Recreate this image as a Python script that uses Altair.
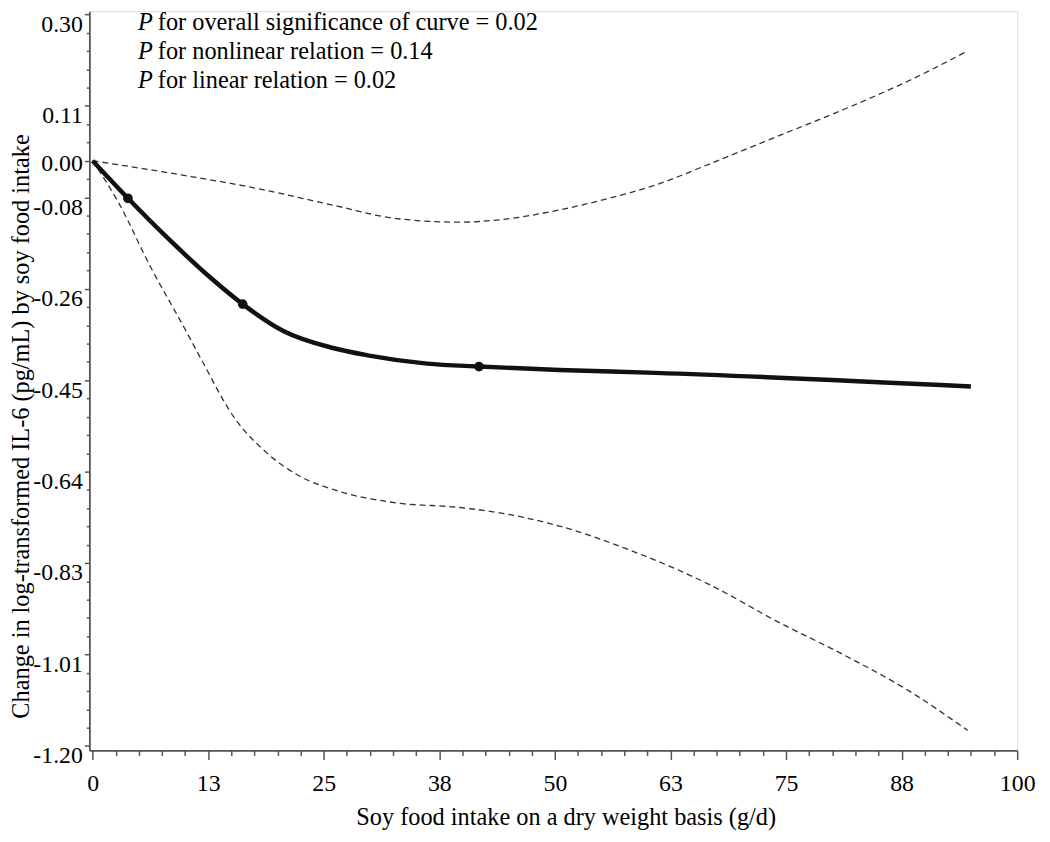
import json
import altair as alt
import pandas as pd

# ---- data ----
est_x = [0, 3.82, 8.47, 12.76, 16.23, 20.63, 25.99, 29.74, 36.18, 41.79, 50.48, 60.87, 94.99]
est_y = [0, -0.077, -0.165, -0.240, -0.294, -0.349, -0.384, -0.399, -0.416, -0.422, -0.429, -0.435, -0.463]

knot_x = [3.82, 16.23, 41.79]
knot_y = [-0.077, -0.294, -0.422]

upper_x = [0, 9.90, 17.05, 25.99, 32.61, 39.75, 44.04, 50.48, 55.84, 60.85, 66.93, 74.07, 81.23, 88.38, 94.64]
upper_y = [0, -0.030, -0.054, -0.091, -0.118, -0.126, -0.121, -0.101, -0.077, -0.050, -0.005, 0.050, 0.105, 0.165, 0.225]

lower_x = [0, 2.75, 6.33, 9.90, 11.69, 15.26, 18.84, 22.42, 25.99, 32.61, 39.75, 44.04, 50.48, 57.63, 66.93, 74.07, 81.23, 88.38, 94.64]
lower_y = [0, -0.084, -0.220, -0.342, -0.405, -0.525, -0.599, -0.647, -0.674, -0.701, -0.711, -0.722, -0.749, -0.795, -0.871, -0.945, -1.013, -1.088, -1.168]

x_major = [0, 12.5, 25, 37.5, 50, 62.5, 75, 87.5, 100]
x_labels = ["0", "13", "25", "38", "50", "63", "75", "88", "100"]
x_minor = [round(i * 2.5, 4) for i in range(41)]

y_major = [-1.2, -1.0125, -0.825, -0.6375, -0.45, -0.2625, -0.075, 0.0, 0.1125, 0.3]
y_labels = ["-1.20", "-1.01", "-0.83", "-0.64", "-0.45", "-0.26", "-0.08", "0.00", "0.11", "0.30"]
y_minor = [round(-1.2 + i * 0.0375, 4) for i in range(41)]

ann_text = ["for overall significance of curve = 0.02",
            "for nonlinear relation = 0.14",
            "for linear relation = 0.02"]

x_title = "Soy food intake on a dry weight basis (g/d)"
y_title = "Change in log-transformed IL-6 (pg/mL) by soy food intake"

FONT = "Liberation Serif"
W, H = 935, 745


def label_expr(vals, labs):
    expr = "''"
    for v, l in reversed(list(zip(vals, labs))):
        expr = f"datum.value == {v} ? '{l}' : ({expr})"
    return expr


x_axis = alt.Axis(
    values=x_minor,
    labelExpr=label_expr(x_major, x_labels),
    tickSize={"condition": {"test": f"indexof({json.dumps(x_major)}, datum.value) >= 0", "value": 9}, "value": 5},
    tickColor="#555", tickWidth=1.5, domainColor="#555", domainWidth=1.8,
    labelFont=FONT, labelFontSize=24, labelColor="black", labelPadding=12,
    labelFlush=False, labelOverlap=False,
    grid=False,
    title=x_title, titleFont=FONT, titleFontSize=24.5, titleFontWeight="normal",
    titleColor="black", titleX=480, titleY=75, titleAlign="center", titleBaseline="alphabetic",
)

y_axis = alt.Axis(
    values=y_minor,
    labelExpr=label_expr(y_major, y_labels),
    tickSize={"condition": {"test": f"indexof({json.dumps(y_major)}, datum.value) >= 0", "value": 5}, "value": 3},
    tickColor="#555", tickWidth=1.5, domainColor="#555", domainWidth=1.8,
    labelFont=FONT, labelFontSize=24, labelColor="black", labelPadding=2,
    labelBaseline={"condition": {"test": "datum.value == 0", "value": "middle"}, "value": "top"},
    labelOffset={"condition": {"test": "datum.value == 0", "value": 3}, "value": -2},
    labelFlush=False, labelOverlap=False,
    grid=False,
    title=y_title, titleFont=FONT, titleFontSize=24.5, titleFontWeight="normal",
    titleColor="black", titleX=-61, titleY=418, titleAngle=270, titleAlign="center",
    titleBaseline="alphabetic",
)

xs = alt.Scale(domain=[-0.35, 100], nice=False, zero=False)
ys = alt.Scale(domain=[-1.2092, 0.3066], nice=False, zero=False)


def enc():
    return dict(
        x=alt.X("x:Q", scale=xs, axis=x_axis),
        y=alt.Y("y:Q", scale=ys, axis=y_axis),
    )


est_df = pd.DataFrame({"x": est_x, "y": est_y})
knot_df = pd.DataFrame({"x": knot_x, "y": knot_y})
up_df = pd.DataFrame({"x": upper_x, "y": upper_y})
lo_df = pd.DataFrame({"x": lower_x, "y": lower_y})

upper = alt.Chart(up_df).mark_line(color="#333", strokeWidth=1.3, strokeDash=[6, 4],
                                    interpolate="monotone").encode(**enc())
lower = alt.Chart(lo_df).mark_line(color="#333", strokeWidth=1.3, strokeDash=[6, 4],
                                    interpolate="monotone").encode(**enc())
est = alt.Chart(est_df).mark_line(color="#111", strokeWidth=4.5,
                                  interpolate="monotone").encode(**enc())
knots = alt.Chart(knot_df).mark_circle(color="#111", size=95, opacity=1).encode(**enc())

ann_layers = []
for i, t in enumerate(ann_text):
    d = pd.DataFrame({"t": [t]})
    yy = 19 + i * 29
    ann_layers.append(
        alt.Chart(d).mark_text(text="P", font=FONT, fontSize=24.5, fontStyle="italic",
                               align="left", baseline="alphabetic", color="black")
        .encode(x=alt.value(49), y=alt.value(yy))
    )
    ann_layers.append(
        alt.Chart(d).mark_text(font=FONT, fontSize=24.5, align="left",
                               baseline="alphabetic", color="black")
        .encode(text="t:N", x=alt.value(69), y=alt.value(yy))
    )

chart = alt.layer(upper, lower, est, knots, *ann_layers).properties(
    width=W, height=H,
    autosize=alt.AutoSizeParams(type="none"),
    padding={"left": 82, "top": 0, "right": 25, "bottom": 89},
    background="white",
).configure_view(stroke=None).configure_axis(
    labelFont=FONT, titleFont=FONT
).configure(font=FONT)

chart.save("out.html", embed_options={"renderer": "svg", "actions": False})
